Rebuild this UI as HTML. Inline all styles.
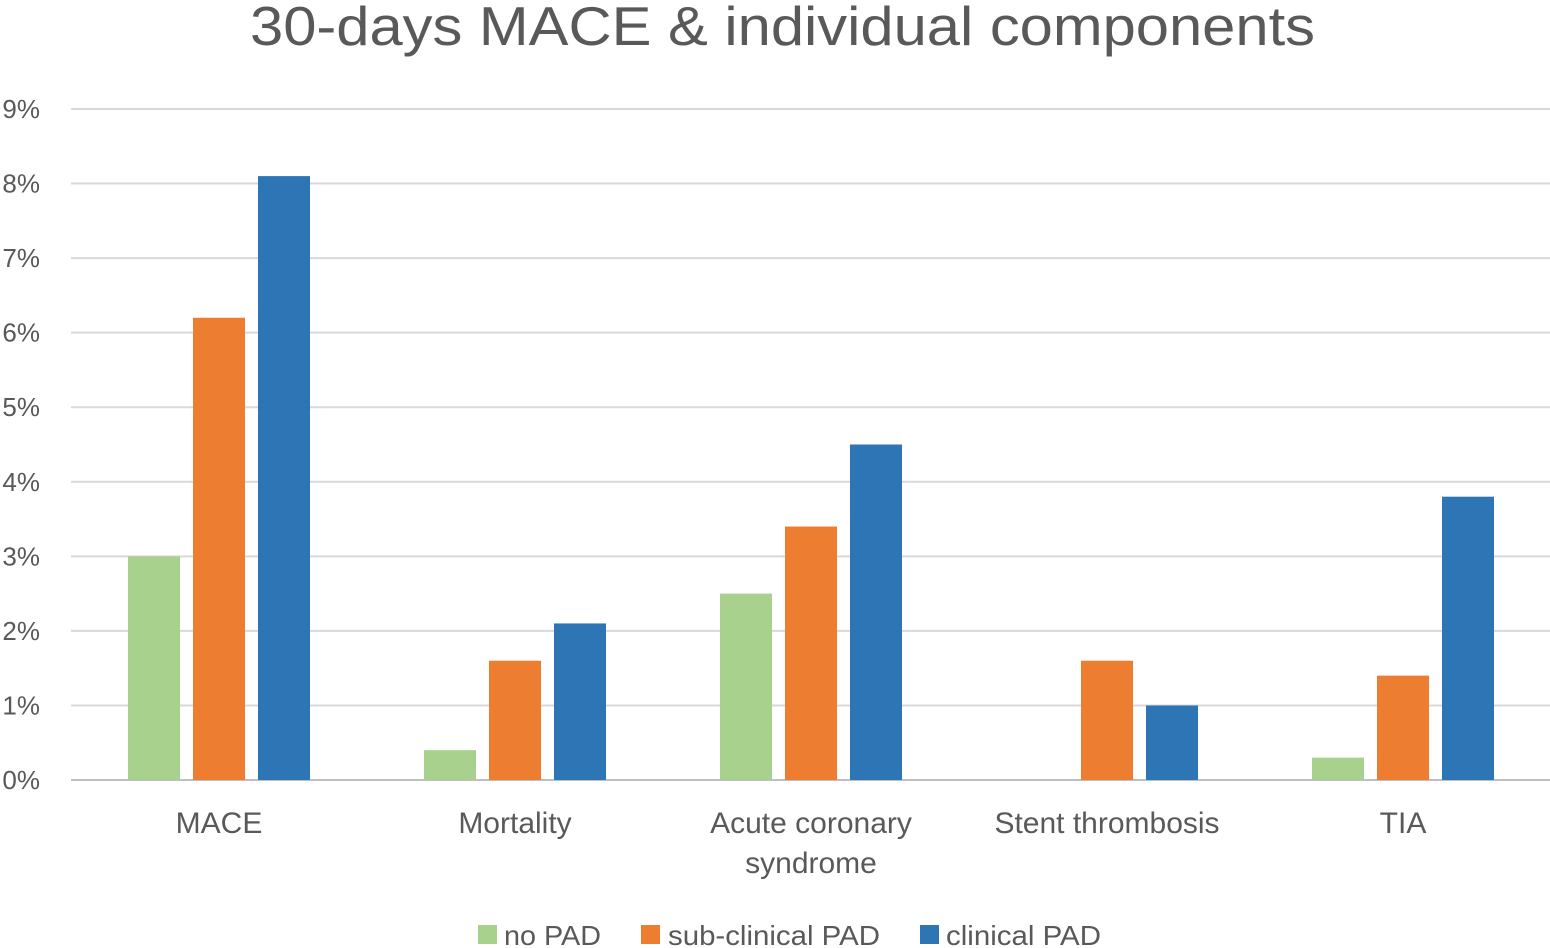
<!DOCTYPE html>
<html><head><meta charset="utf-8"><style>
html,body{margin:0;padding:0;background:#fff;}
svg{display:block;font-family:"Liberation Sans",sans-serif;}
</style></head><body>
<svg id="chart" width="1550" height="948">
<text x="250" y="45" textLength="1065" lengthAdjust="spacingAndGlyphs" font-size="55" fill="#595959">30-days MACE &amp; individual components</text>
<g id="grid"></g><g id="bars"></g><g id="labels"></g>
<g>
<rect x="478" y="925" width="19" height="19" fill="#a9d18e"/>
<text x="504" y="945" font-size="28" textLength="97" lengthAdjust="spacingAndGlyphs" fill="#595959">no PAD</text>
<rect x="641" y="925" width="19" height="19" fill="#ed7d31"/>
<text x="668" y="945" font-size="28" textLength="212" lengthAdjust="spacingAndGlyphs" fill="#595959">sub-clinical PAD</text>
<rect x="920" y="925" width="19" height="19" fill="#2e75b6"/>
<text x="946" y="945" font-size="28" textLength="155" lengthAdjust="spacingAndGlyphs" fill="#595959">clinical PAD</text>
</g>
</svg>
<script>
const categories=[["MACE"],["Mortality"],["Acute coronary","syndrome"],["Stent thrombosis"],["TIA"]];
const noPad=[3.0,0.4,2.5,0,0.3];
const subClinical=[6.2,1.6,3.4,1.6,1.4];
const clinical=[8.1,2.1,4.5,1.0,3.8];
const yTicks=[0,1,2,3,4,5,6,7,8,9];
const NS="http://www.w3.org/2000/svg";
const x0=71,catW=296,y0=780,yTop=109,yMax=9;
const y=v=>y0-(v/yMax)*(y0-yTop);
const xc=i=>x0+catW*(i+0.5);
function mk(t,a,p){const e=document.createElementNS(NS,t);for(const k in a)e.setAttribute(k,a[k]);p.appendChild(e);return e;}
const grid=document.getElementById('grid'),bars=document.getElementById('bars'),labels=document.getElementById('labels');
yTicks.forEach(t=>{
 const l=mk('line',{x1:x0,x2:1550,y1:y(t),y2:y(t),stroke:t===0?'#bfbfbf':'#d9d9d9','stroke-width':2},grid);
 
 
 const tx=mk('text',{x:40,y:y(t)+9,'text-anchor':'end','font-size':26,fill:'#595959'},grid);
 tx.textContent=t+'%';
 
 
});
const series=[[noPad,'#a9d18e','no-pad'],[subClinical,'#ed7d31','sub-clinical'],[clinical,'#2e75b6','clinical']];
const bw=52,gap=13;
categories.forEach((c,i)=>{
 series.forEach((s,j)=>{
  const v=s[0][i];
  const bx=xc(i)-91+j*(bw+gap);
  const r=mk('rect',{x:bx,y:y(v),width:bw,height:y0-y(v),fill:s[1]},bars);
  
  
 });
 c.forEach((line,k)=>{
  const t=mk('text',{x:xc(i),y:833+k*40,'text-anchor':'middle','font-size':30,fill:'#595959'},labels);
  t.textContent=line;
  
  
 });
});
</script>
</body></html>
